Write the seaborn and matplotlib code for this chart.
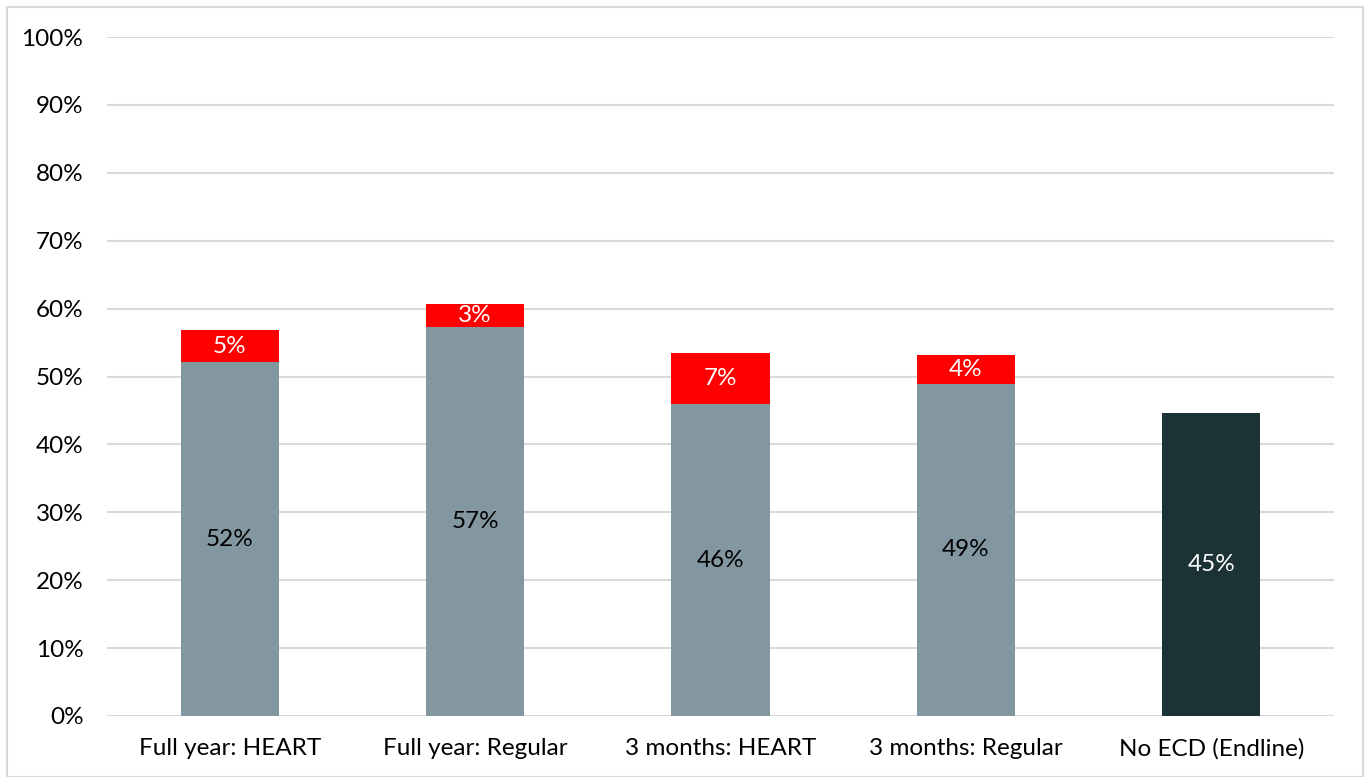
import matplotlib
matplotlib.use("Agg")
import matplotlib.pyplot as plt
import seaborn as sns
import pandas as pd
from matplotlib.patches import Rectangle

categories = ["Full year: HEART", "Full year: Regular", "3 months: HEART", "3 months: Regular", "No ECD (Endline)"]
base_values = [52.1, 57.3, 45.9, 48.9, 44.6]
top_values = [4.7, 3.4, 7.5, 4.3, 0.0]
base_labels = ["52%", "57%", "46%", "49%", "45%"]
top_labels = ["5%", "3%", "7%", "4%", ""]
base_colors = ["#8397A1", "#8397A1", "#8397A1", "#8397A1", "#1B3335"]
top_color = "#FF0000"

sns.set_theme(style="white")
plt.rcParams['font.family'] = ['Lato', 'DejaVu Sans']

df = pd.DataFrame({"cat": categories, "base": base_values, "top": top_values})

fig = plt.figure(figsize=(13.64, 7.77), dpi=100)
ax = fig.add_axes([107/1364, 1-716/777, (1334-107)/1364, (716-37)/777])

sns.barplot(data=df, x="cat", y="base", hue="cat", palette=base_colors, width=0.40,
            legend=False, ax=ax, saturation=1, zorder=3, linewidth=0)
sns.barplot(data=df, x="cat", y="top", color=top_color, width=0.40, bottom=df["base"].values,
            ax=ax, saturation=1, zorder=3, linewidth=0)

fs = 17.5
for i in range(len(categories)):
    ax.text(i, base_values[i] / 2, base_labels[i], ha="center", va="center",
            fontsize=fs, color="white" if i == 4 else "black", zorder=4)
    if top_labels[i]:
        ax.text(i, base_values[i] + top_values[i] / 2, top_labels[i], ha="center", va="center",
                fontsize=fs, color="white", zorder=4)

ax.set_ylim(0, 100)
ax.set_xlim(-0.5, 4.5)
ax.set_yticks(range(0, 101, 10))
ax.set_yticklabels([f"{v}%" for v in range(0, 101, 10)], fontsize=fs, color="black")
ax.tick_params(axis="x", labelsize=fs, colors="black", pad=16, length=0)
ax.tick_params(axis="y", pad=17, length=0)
ax.set_xlabel("")
ax.set_ylabel("")
ax.grid(axis="y", color="#D9D9D9", linewidth=1.5, zorder=0)
ax.set_axisbelow(True)
for s in ax.spines.values():
    s.set_visible(False)

fig.patches.append(Rectangle((7/1364, 0), (1363-7)/1364, 1-7/777, transform=fig.transFigure,
                             fill=False, edgecolor="#D9D9D9", linewidth=1.5))

fig.savefig("out.png", dpi=100)
